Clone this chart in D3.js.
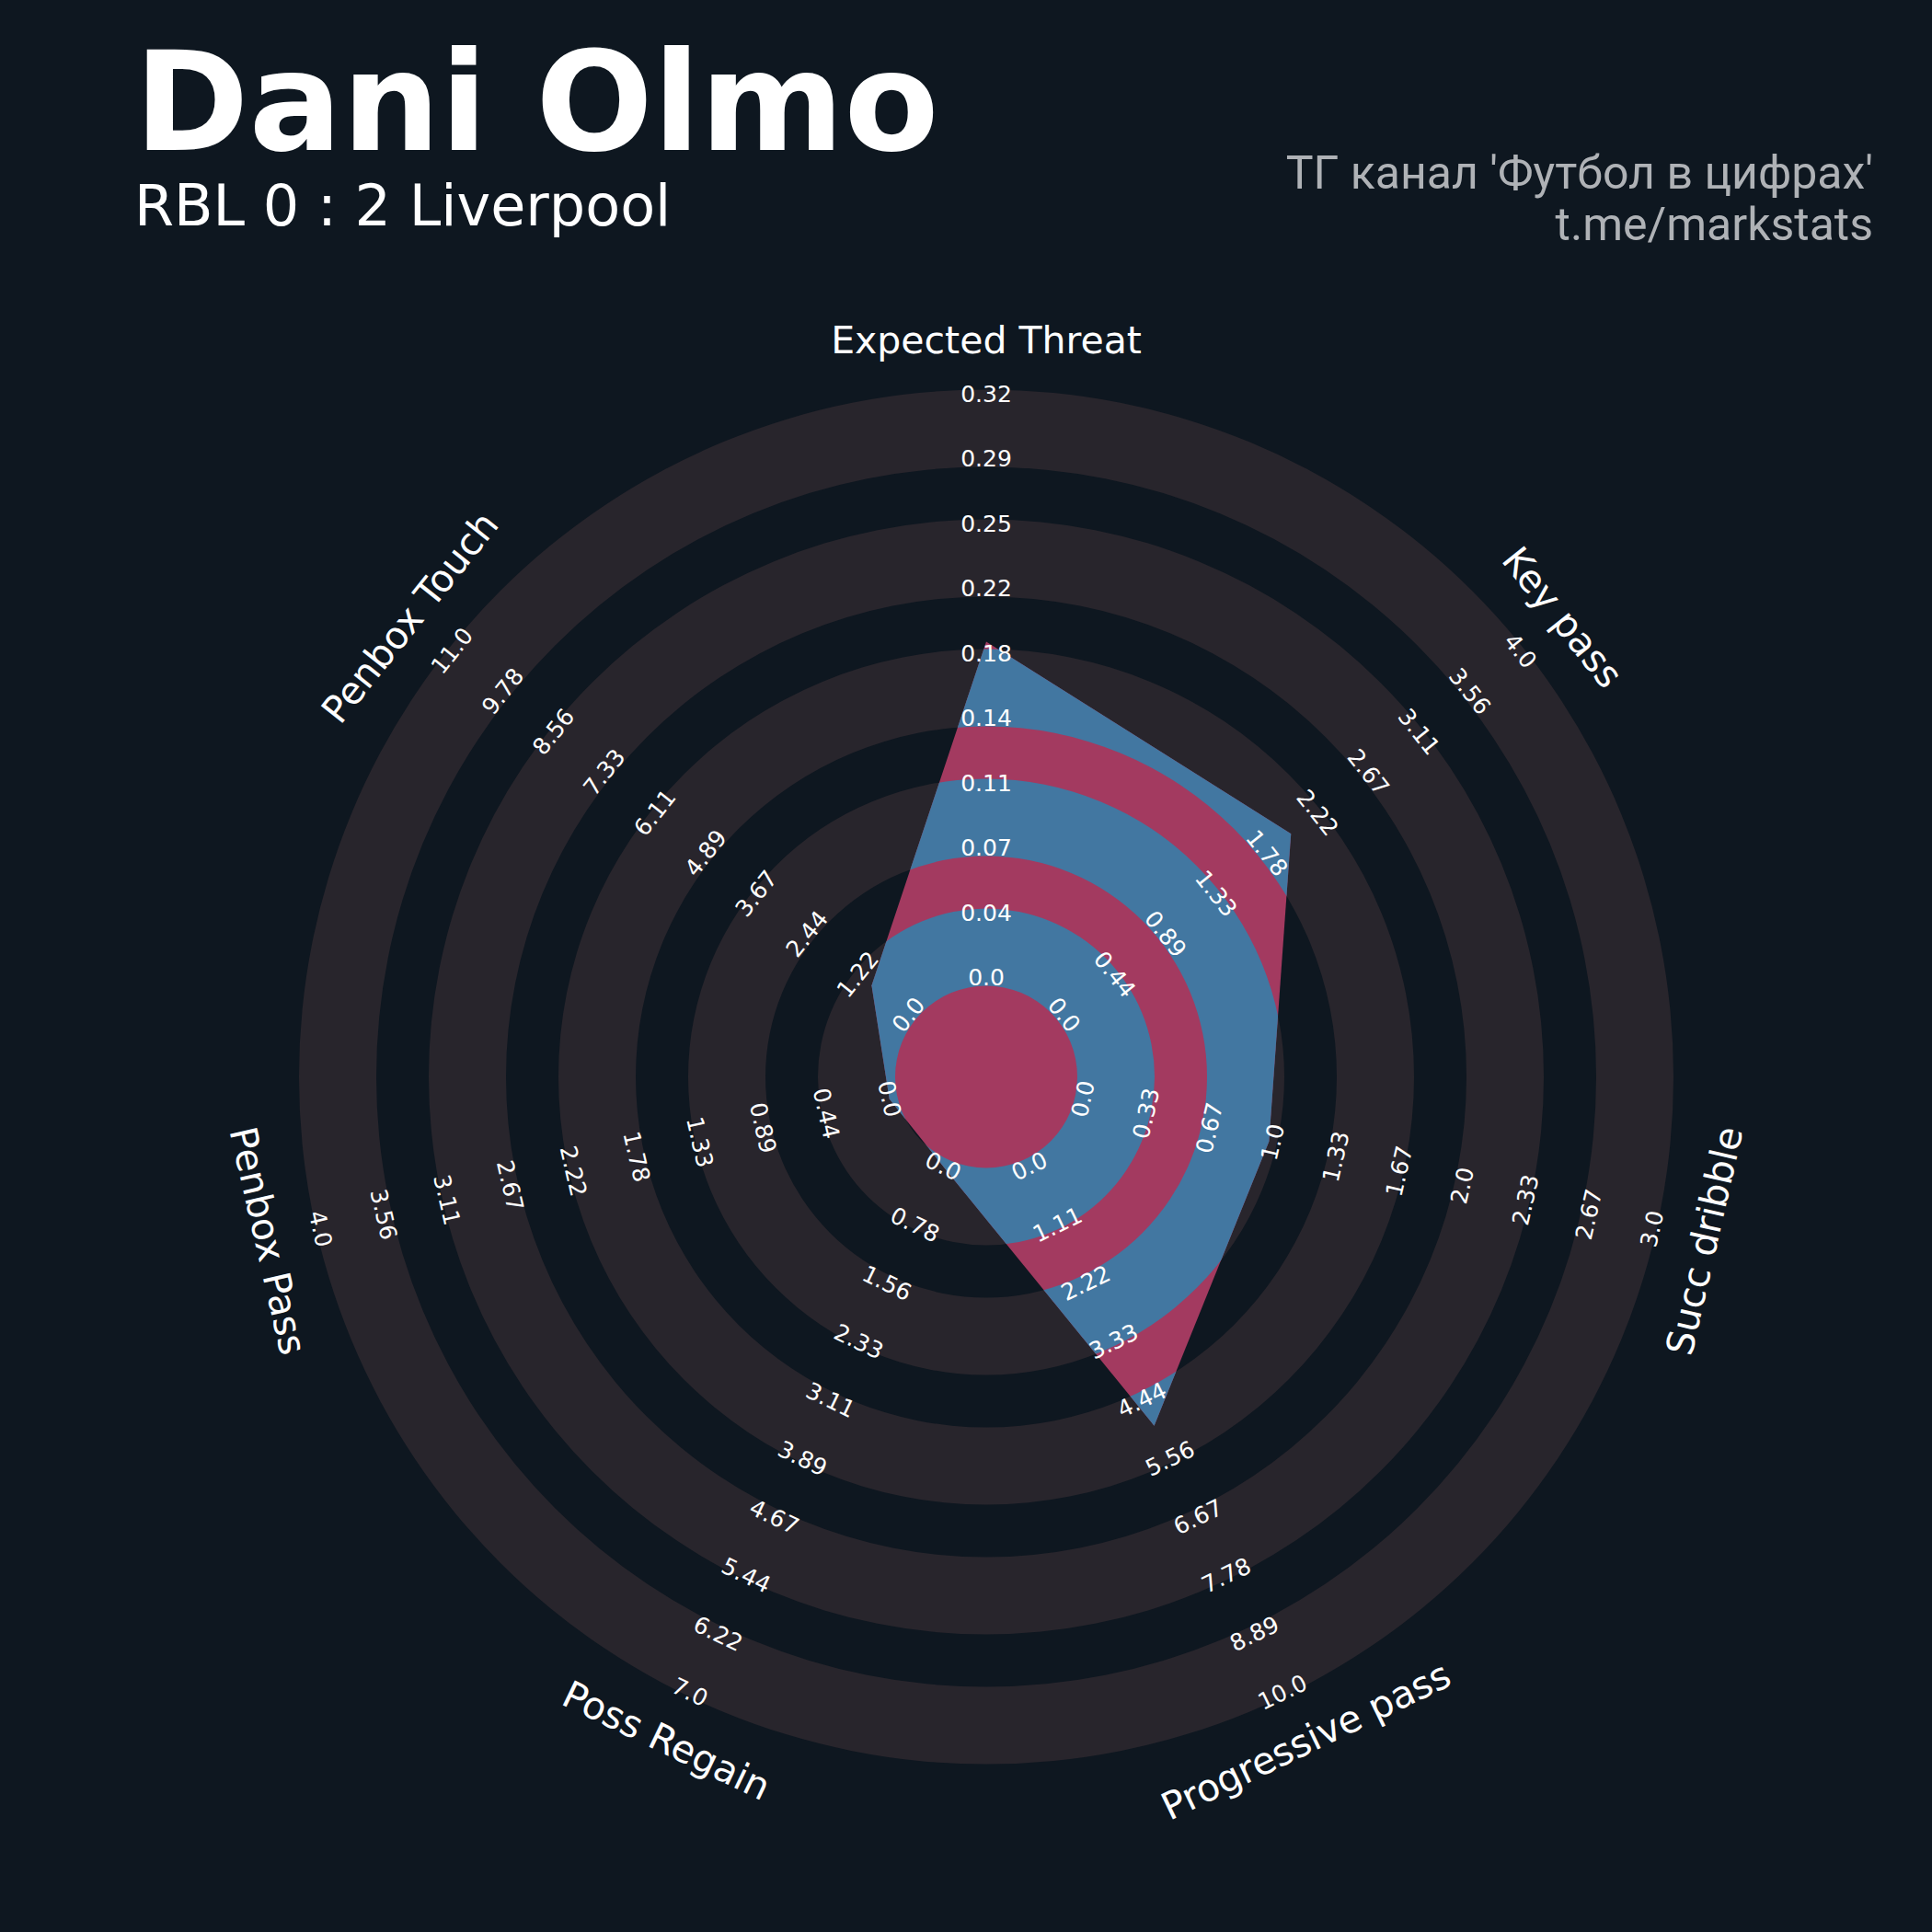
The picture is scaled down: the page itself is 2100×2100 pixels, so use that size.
<!DOCTYPE html>
<html>
<head>
<meta charset="utf-8">
<script src="https://cdn.jsdelivr.net/npm/d3@7/dist/d3.min.js"></script>
<style>
body { margin: 0; background: #0e1720; }
</style>
</head>
<body>
<script>
// radar data
var params = ["Expected Threat", "Key pass", "Succ dribble", "Progressive pass", "Poss Regain", "Penbox Pass", "Penbox Touch"];
var minRange = [0, 0, 0, 0, 0, 0, 0];
var maxRange = [0.325, 4, 3, 10, 7, 4, 11];
var values = [0.187, 1.99, 0.98, 4.93, 0, 0, 0.89];
var rangeLabels = [
  ["0.0", "0.04", "0.07", "0.11", "0.14", "0.18", "0.22", "0.25", "0.29", "0.32"],
  ["0.0", "0.44", "0.89", "1.33", "1.78", "2.22", "2.67", "3.11", "3.56", "4.0"],
  ["0.0", "0.33", "0.67", "1.0", "1.33", "1.67", "2.0", "2.33", "2.67", "3.0"],
  ["0.0", "1.11", "2.22", "3.33", "4.44", "5.56", "6.67", "7.78", "8.89", "10.0"],
  ["0.0", "0.78", "1.56", "2.33", "3.11", "3.89", "4.67", "5.44", "6.22", "7.0"],
  ["0.0", "0.44", "0.89", "1.33", "1.78", "2.22", "2.67", "3.11", "3.56", "4.0"],
  ["0.0", "1.22", "2.44", "3.67", "4.89", "6.11", "7.33", "8.56", "9.78", "11.0"]
];
var title = "Dani Olmo";
var subtitle = "RBL 0 : 2 Liverpool";
var credits = ["ТГ канал 'Футбол в цифрах'", "t.me/markstats"];

var bg = "#0e1720", ringColor = "#28252c", polyColor = "#a33a60", innerRingColor = "#4277a1";

var svg = d3.select("body").append("svg")
  .attr("width", 2100)
  .attr("height", 2100);

svg.append("rect").attr("width", 2100).attr("height", 2100).attr("fill", bg);

var cx = 1072, cy = 1170.5,
  rMin = 108, rMax = 742.5,
  centerR = 99, ringW = 84, ringStep = 141, labelR = 801;

var n = params.length;
function angle(i) { return i * 2 * Math.PI / n; }
function rot(i) {
  var a = angle(i) * 180 / Math.PI;
  if (a > 90 && a < 270) return a - 180;
  if (a >= 270) return a - 360;
  return a;
}

var scales = params.map(function(p, i) {
  return d3.scaleLinear().domain([minRange[i], maxRange[i]]).range([rMin, rMax]);
});

var rings = d3.range(5).map(function(k) {
  return {innerRadius: centerR + k * ringStep, outerRadius: centerR + k * ringStep + ringW};
});

var arc = d3.arc().startAngle(0).endAngle(2 * Math.PI);

var g = svg.append("g").attr("transform", "translate(" + cx + "," + cy + ")");

g.selectAll(".ring")
  .data(rings)
  .enter().append("path")
  .attr("class", "ring")
  .attr("d", arc)
  .attr("fill", ringColor);

var pts = values.map(function(v, i) {
  var r = scales[i](v);
  return [r * Math.sin(angle(i)), -r * Math.cos(angle(i))];
});
var line = d3.line().curve(d3.curveLinearClosed);

svg.append("defs").append("clipPath")
  .attr("id", "radar-clip")
  .append("path")
  .attr("d", line(pts));

g.append("path")
  .attr("d", line(pts))
  .attr("fill", polyColor);

g.append("g")
  .attr("clip-path", "url(#radar-clip)")
  .selectAll("path")
  .data(rings)
  .enter().append("path")
  .attr("d", arc)
  .attr("fill", innerRingColor);

// range labels along every axis
params.forEach(function(p, i) {
  var lab = g.append("g").attr("class", "range-labels");
  rangeLabels[i].forEach(function(t, k) {
    var v = minRange[i] + k * (maxRange[i] - minRange[i]) / (rangeLabels[i].length - 1);
    var r = scales[i](v);
    var x = r * Math.sin(angle(i)), y = -r * Math.cos(angle(i));
    lab.append("text")
      .attr("transform", "translate(" + x + "," + y + ") rotate(" + rot(i) + ")")
      .attr("text-anchor", "middle")
      .attr("dominant-baseline", "central")
      .attr("fill", "#ffffff")
      .style("font", "25px 'DejaVu Sans'")
      .text(t);
  });
});

g.selectAll(".param")
  .data(params)
  .enter().append("text")
  .attr("class", "param")
  .attr("transform", function(d, i) {
    return "translate(" + (labelR * Math.sin(angle(i))) + "," + (-labelR * Math.cos(angle(i))) + ") rotate(" + rot(i) + ")";
  })
  .attr("text-anchor", "middle")
  .attr("dominant-baseline", "central")
  .attr("fill", "#ffffff")
  .style("font", "41px 'DejaVu Sans'")
  .text(function(d) { return d; });

svg.append("text")
  .attr("x", 146)
  .attr("y", 163)
  .attr("fill", "#ffffff")
  .style("font", "bold 150px 'DejaVu Sans'")
  .text(title);

svg.append("text")
  .attr("x", 146)
  .attr("y", 245)
  .attr("fill", "#ffffff")
  .style("font", "62px 'DejaVu Sans'")
  .text(subtitle);

svg.selectAll(".credit")
  .data(credits)
  .enter().append("text")
  .attr("class", "credit")
  .attr("x", 2036)
  .attr("y", function(d, i) { return 205 + i * 56; })
  .attr("text-anchor", "end")
  .attr("fill", "#afb2b6")
  .style("font", "50px Roboto")
  .text(function(d) { return d; });
</script>
</body>
</html>
